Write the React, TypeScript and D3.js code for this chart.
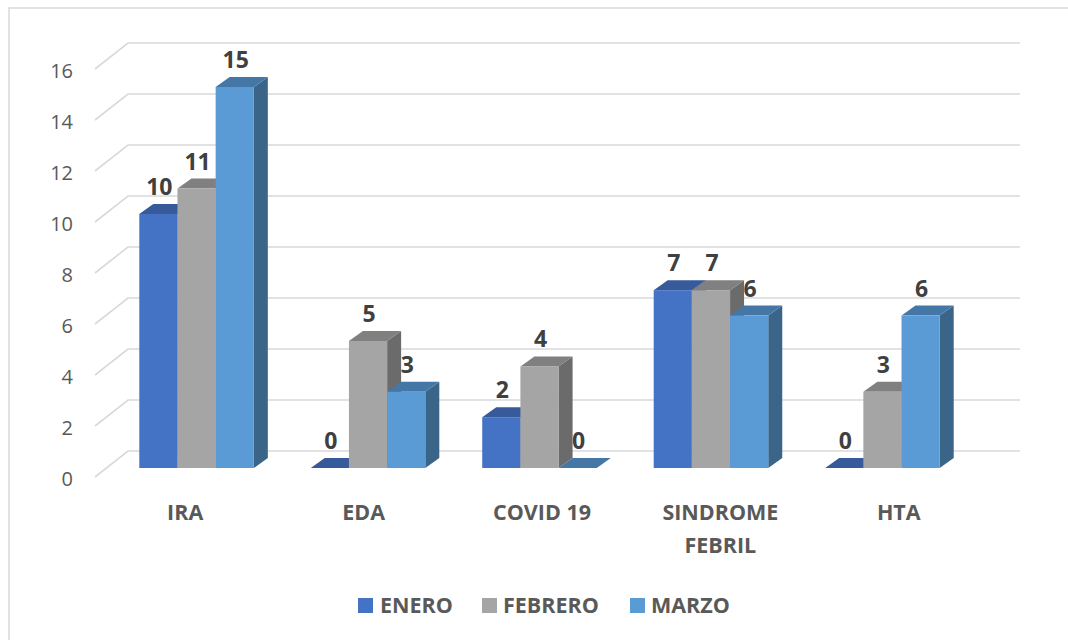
import React from "react";
import * as d3 from "d3";

const categories = ["IRA", "EDA", "COVID 19", "SINDROME FEBRIL", "HTA"];
const categoryLines = [["IRA"], ["EDA"], ["COVID 19"], ["SINDROME", "FEBRIL"], ["HTA"]];
const seriesNames = ["ENERO", "FEBRERO", "MARZO"];
const enero = [10, 0, 2, 7, 0];
const febrero = [11, 5, 4, 7, 3];
const marzo = [15, 3, 0, 6, 6];
const yTicks = [0, 2, 4, 6, 8, 10, 12, 14, 16];

const seriesValues = [enero, febrero, marzo];
const colors = [
  { front: "#4472C4", top: "#375A9A", side: "#2F4F88" },
  { front: "#A5A5A5", top: "#808080", side: "#6B6B6B" },
  { front: "#5B9BD5", top: "#4577A6", side: "#3A6588" },
];

const W = 1068;
const H = 640;
const FONT = "'Open Sans', 'Liberation Sans', Arial, sans-serif";

// 3D geometry
const wallDx = -33; // offset from back wall to front edge of floor
const wallDy = 26;
const barDx = 14; // depth of each bar
const barDy = -10;

export default function App() {
  const yBack = d3.scaleLinear().domain([0, 16]).range([451, 43]);
  const yBar = d3.scaleLinear().domain([0, 16]).range([468, 468 - 16 * 25.4]);
  const xLabel = d3.scaleBand<string>().domain(categories).range([95, 987]);
  const xGroup = d3
    .scaleBand<string>()
    .domain(categories)
    .range([105, 974])
    .paddingInner(0.332)
    .paddingOuter(0.2);
  const xSeries = d3
    .scaleBand<string>()
    .domain(seriesNames)
    .range([0, xGroup.bandwidth()]);

  const backX0 = 128;
  const backX1 = 1020;
  const base = yBar(0);

  const bars: any[] = [];
  categories.forEach((c, ci) => {
    seriesNames.forEach((s, si) => {
      const v = seriesValues[si][ci];
      const x = (xGroup(c) as number) + (xSeries(s) as number);
      const w = xSeries.bandwidth();
      const yt = yBar(v);
      bars.push({ key: c + s, x, w, yt, v, col: colors[si] });
    });
  });

  const pts = (arr: number[][]) => arr.map((p) => p.join(",")).join(" ");

  const legendItems = [
    { name: seriesNames[0], sx: 358, tx: 380 },
    { name: seriesNames[1], sx: 482, tx: 503 },
    { name: seriesNames[2], sx: 630, tx: 651 },
  ];

  return (
    <svg
      width={W}
      height={H}
      style={{ position: "absolute", left: 0, top: 0, display: "block", background: "#fff" }}
    >
      <rect x={0} y={0} width={W} height={H} fill="#fff" />
      <rect x={9} y={8} width={W + 20} height={H + 20} fill="none" stroke="#d9d9d9" strokeWidth={1.5} />

      {/* gridlines */}
      {yTicks.map((t) => (
        <g key={"g" + t}>
          <polyline
            points={pts([
              [backX0 + wallDx, yBack(t) + wallDy],
              [backX0, yBack(t)],
              [backX1, yBack(t)],
            ])}
            fill="none"
            stroke="#d9d9d9"
            strokeWidth={1.6}
          />
          <text
            x={73}
            y={yBack(t) + wallDy + 1}
            textAnchor="end"
            dominantBaseline="central"
            fontFamily={FONT}
            fontSize={20}
            fill="#595959"
          >
            {t}
          </text>
        </g>
      ))}

      {/* bars */}
      {bars.map((b) => (
        <g key={b.key}>
          <polygon
            points={pts([
              [b.x + b.w, b.yt],
              [b.x + b.w + barDx, b.yt + barDy],
              [b.x + b.w + barDx, base + barDy],
              [b.x + b.w, base],
            ])}
            fill={b.col.side}
          />
          <polygon
            points={pts([
              [b.x, b.yt],
              [b.x + barDx, b.yt + barDy],
              [b.x + b.w + barDx, b.yt + barDy],
              [b.x + b.w, b.yt],
            ])}
            fill={b.col.top}
          />
          {b.v > 0 && (
            <rect x={b.x} y={b.yt} width={b.w} height={base - b.yt} fill={b.col.front} />
          )}
        </g>
      ))}

      {/* value labels */}
      {bars.map((b) => (
        <text
          key={"l" + b.key}
          x={b.x + b.w / 2 + 1}
          y={b.yt - 19}
          textAnchor="middle"
          fontFamily={FONT}
          fontWeight="bold"
          fontSize={23}
          fill="#404040"
        >
          {b.v}
        </text>
      ))}

      {/* category labels */}
      {categories.map((c, ci) => (
        <text
          key={"c" + c}
          textAnchor="middle"
          fontFamily={FONT}
          fontWeight="bold"
          fontSize={21.5}
          fill="#595959"
        >
          {categoryLines[ci].map((line, li) => (
            <tspan
              key={line}
              x={(xLabel(c) as number) + xLabel.bandwidth() / 2 + 1}
              y={520 + li * 33}
            >
              {line}
            </tspan>
          ))}
        </text>
      ))}

      {/* legend */}
      {legendItems.map((it, i) => (
        <g key={"lg" + it.name}>
          <rect x={it.sx} y={598} width={15} height={15} fill={colors[i].front} />
          <text
            x={it.tx}
            y={613}
            fontFamily={FONT}
            fontWeight="bold"
            fontSize={21.5}
            fill="#595959"
          >
            {it.name}
          </text>
        </g>
      ))}
    </svg>
  );
}
